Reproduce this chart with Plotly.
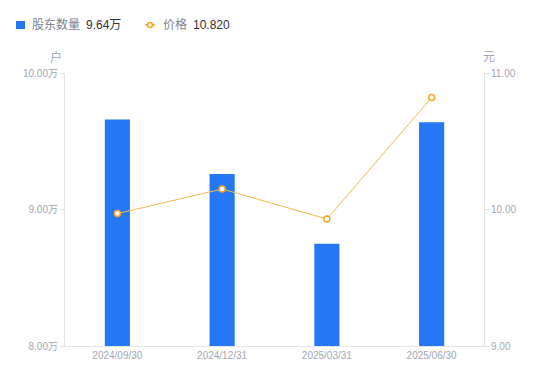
import plotly.graph_objects as go

categories = ["2024/09/30", "2024/12/31", "2025/03/31", "2025/06/30"]
holders_wan = [9.66, 9.26, 8.75, 9.64]
price = [9.97, 10.15, 9.93, 10.82]

FONT = "Liberation Sans, Arial, Noto Sans CJK SC, sans-serif"
GRAY = "#a3a6b4"
LEGEND_GRAY = "#80838f"
DARK = "#333333"
AXIS = "#e3e4e8"
BLUE = "#2677F5"
ORANGE = "#F5A623"

# page is offset by 8px body margin; plot area on page: x 65..484, y 73..346
PL, PR, PT, PB = 65, 484, 73, 346
def px(x):
    return (x - PL) / (PR - PL)
def py(y):
    return (PB - y) / (PB - PT)

fig = go.Figure()
fig.add_trace(go.Bar(
    x=categories, y=holders_wan, name="股东数量",
    marker=dict(color=BLUE, line=dict(width=0)), width=0.24, yaxis="y",
))
fig.add_trace(go.Scatter(
    x=categories, y=price, name="价格",
    mode="lines+markers", yaxis="y2",
    line=dict(color="#F7B84B", width=1),
    marker=dict(symbol="circle", size=6, color="white", line=dict(color=ORANGE, width=1.5)),
))

legend_y = py(25)
annotations = [
    dict(text="户", xref="paper", yref="paper", x=px(56), y=py(57),
         showarrow=False, xanchor="center", yanchor="middle",
         font=dict(size=12, color=GRAY)),
    dict(text="元", xref="paper", yref="paper", x=px(489), y=py(57),
         showarrow=False, xanchor="center", yanchor="middle",
         font=dict(size=12, color=GRAY)),
    dict(text="股东数量", xref="paper", yref="paper", x=px(30), y=legend_y,
         showarrow=False, xanchor="left", yanchor="middle",
         font=dict(size=12, color=LEGEND_GRAY)),
    dict(text=f"{holders_wan[-1]:.2f}万", xref="paper", yref="paper", x=px(84), y=legend_y,
         showarrow=False, xanchor="left", yanchor="middle",
         font=dict(size=12, color=DARK)),
    dict(text="价格", xref="paper", yref="paper", x=px(161), y=legend_y,
         showarrow=False, xanchor="left", yanchor="middle",
         font=dict(size=12, color=LEGEND_GRAY)),
    dict(text=f"{price[-1]:.3f}", xref="paper", yref="paper", x=px(191), y=legend_y,
         showarrow=False, xanchor="left", yanchor="middle",
         font=dict(size=12, color=DARK)),
]
shapes = [
    dict(type="rect", xref="paper", yref="paper", x0=px(16), x1=px(25), y0=py(21), y1=py(29),
         fillcolor=BLUE, line=dict(width=0)),
    dict(type="line", xref="paper", yref="paper", x0=px(145), x1=px(155), y0=legend_y, y1=legend_y,
         line=dict(color=ORANGE, width=1.5)),
    dict(type="circle", xref="paper", yref="paper", x0=px(147.5), x1=px(152.5), y0=py(27.5), y1=py(22.5),
         fillcolor="white", line=dict(color=ORANGE, width=1.5)),
]

fig.update_layout(
    width=542, height=373,
    margin=dict(l=57, r=66, t=65, b=35),
    paper_bgcolor="white", plot_bgcolor="white",
    font=dict(family=FONT, size=10, color=GRAY),
    showlegend=False,
    bargap=0.76,
    xaxis=dict(showline=True, linecolor=AXIS, linewidth=1, ticks="", showgrid=False,
               tickfont=dict(size=10, color=GRAY)),
    yaxis=dict(range=[8, 10], dtick=1, tickformat=".2f", ticksuffix="万",
               showline=True, linecolor=AXIS, linewidth=1, showgrid=False, zeroline=False,
               ticks="outside", ticklen=4, tickcolor=AXIS,
               tickfont=dict(size=10, color=GRAY)),
    yaxis2=dict(range=[9, 11], dtick=1, tickformat=".2f", overlaying="y", side="right",
                showline=True, linecolor=AXIS, linewidth=1, showgrid=False, zeroline=False,
                ticks="outside", ticklen=4, tickcolor=AXIS,
                tickfont=dict(size=10, color=GRAY)),
    annotations=annotations,
    shapes=shapes,
)

fig.write_html("out.html")
